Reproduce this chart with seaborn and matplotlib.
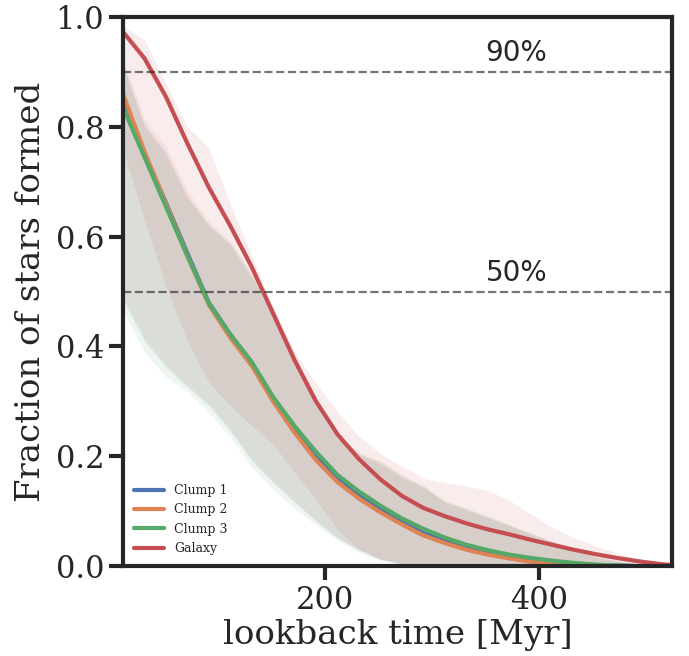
import numpy as np
import pandas as pd
import matplotlib
matplotlib.use("Agg")
import matplotlib.pyplot as plt
import seaborn as sns

# ---- data ----
time = [12, 32, 52, 72, 92, 112, 132, 152, 172, 192, 212, 232, 252, 272, 292,
        312, 332, 352, 372, 392, 412, 432, 452, 472, 492, 512, 524]

clump1 = [0.848, 0.752, 0.662, 0.570, 0.480, 0.422, 0.370, 0.305, 0.250, 0.200,
          0.158, 0.128, 0.102, 0.080, 0.060, 0.046, 0.034, 0.025, 0.018, 0.012,
          0.007, 0.004, 0.002, 0.001, 0.0, 0.0, 0.0]
clump2 = [0.860, 0.755, 0.660, 0.565, 0.476, 0.416, 0.365, 0.300, 0.243, 0.193,
          0.153, 0.123, 0.098, 0.076, 0.056, 0.042, 0.030, 0.021, 0.014, 0.008,
          0.005, 0.003, 0.001, 0.0, 0.0, 0.0, 0.0]
clump3 = [0.836, 0.745, 0.655, 0.565, 0.479, 0.422, 0.372, 0.308, 0.255, 0.208,
          0.166, 0.136, 0.110, 0.087, 0.068, 0.052, 0.039, 0.029, 0.021, 0.015,
          0.010, 0.006, 0.003, 0.001, 0.0, 0.0, 0.0]
galaxy = [0.973, 0.925, 0.855, 0.770, 0.690, 0.620, 0.545, 0.460, 0.375, 0.300,
          0.240, 0.195, 0.158, 0.128, 0.106, 0.091, 0.078, 0.067, 0.058, 0.048,
          0.039, 0.030, 0.022, 0.015, 0.009, 0.004, 0.002]

# percentile bands
clump1_lo = [0.485, 0.410, 0.362, 0.326, 0.292, 0.246, 0.192, 0.152, 0.116, 0.082,
             0.051, 0.029, 0.013, 0.004, 0.001, 0.0, 0.0, 0.0, 0.0, 0.0,
             0.0, 0.0, 0.0, 0.0, 0.0, 0.0, 0.0]
clump1_hi = [0.915, 0.805, 0.755, 0.675, 0.620, 0.585, 0.525, 0.468, 0.372, 0.292,
             0.232, 0.205, 0.186, 0.162, 0.145, 0.116, 0.104, 0.088, 0.074, 0.058,
             0.044, 0.029, 0.017, 0.009, 0.004, 0.001, 0.0]
clump2_lo = [0.490, 0.415, 0.366, 0.330, 0.296, 0.250, 0.195, 0.155, 0.118, 0.083,
             0.052, 0.030, 0.013, 0.005, 0.001, 0.0, 0.0, 0.0, 0.0, 0.0,
             0.0, 0.0, 0.0, 0.0, 0.0, 0.0, 0.0]
clump2_hi = [0.925, 0.815, 0.765, 0.685, 0.628, 0.592, 0.535, 0.474, 0.385, 0.298,
             0.238, 0.208, 0.190, 0.168, 0.142, 0.120, 0.102, 0.090, 0.076, 0.060,
             0.046, 0.031, 0.019, 0.010, 0.004, 0.001, 0.0]
clump3_lo = [0.466, 0.390, 0.345, 0.318, 0.280, 0.235, 0.180, 0.140, 0.105, 0.075,
             0.048, 0.025, 0.010, 0.003, 0.0, 0.0, 0.0, 0.0, 0.0, 0.0,
             0.0, 0.0, 0.0, 0.0, 0.0, 0.0, 0.0]
clump3_hi = [0.910, 0.800, 0.750, 0.670, 0.622, 0.588, 0.530, 0.470, 0.380, 0.296,
             0.236, 0.202, 0.192, 0.164, 0.148, 0.118, 0.106, 0.092, 0.075, 0.061,
             0.045, 0.030, 0.018, 0.010, 0.004, 0.001, 0.0]
galaxy_lo = [0.760, 0.630, 0.510, 0.410, 0.335, 0.292, 0.256, 0.222, 0.170, 0.122,
             0.066, 0.031, 0.012, 0.005, 0.002, 0.001, 0.0, 0.0, 0.0, 0.0,
             0.0, 0.0, 0.0, 0.0, 0.0, 0.0, 0.0]
galaxy_hi = [0.985, 0.958, 0.880, 0.800, 0.762, 0.660, 0.565, 0.470, 0.390, 0.332,
             0.282, 0.236, 0.205, 0.182, 0.160, 0.152, 0.146, 0.138, 0.120, 0.095,
             0.071, 0.052, 0.037, 0.025, 0.014, 0.006, 0.003]

labels = ["Clump 1", "Clump 2", "Clump 3", "Galaxy"]
lines = [clump1, clump2, clump3, galaxy]
bands = [(clump1_lo, clump1_hi), (clump2_lo, clump2_hi),
         (clump3_lo, clump3_hi), (galaxy_lo, galaxy_hi)]
percent_levels = [0.9, 0.5]
percent_texts = ["90%", "50%"]
xticks = [200, 400]

# ---- style ----
sns.set_theme(style="ticks", context="poster")
plt.rcParams["font.family"] = ["DejaVu Serif"]

palette = sns.color_palette("deep", 4)

df = pd.concat([pd.DataFrame({"time": time, "frac": v, "src": lab})
                for lab, v in zip(labels, lines)], ignore_index=True)

fig = plt.figure(figsize=(6.89, 6.56), dpi=100)
ax = fig.add_axes([0.1785, 0.137, 0.797, 0.837])

for (lo, hi), c in zip(bands, palette):
    ax.fill_between(time, lo, hi, color=c, alpha=0.1, linewidth=0)

sns.lineplot(data=df, x="time", y="frac", hue="src", palette=palette,
             linewidth=3, ax=ax)

for lvl, txt in zip(percent_levels, percent_texts):
    ax.axhline(lvl, ls="--", color="k", alpha=0.6, lw=1.6)
    ax.text(350, lvl + 0.02, txt, fontsize=20, family="DejaVu Sans",
            color="#262626")

ax.set_xlim(12, 524)
ax.set_ylim(0, 1)
ax.set_xticks(xticks)
ax.set_yticks([0.0, 0.2, 0.4, 0.6, 0.8, 1.0])
ax.set_xlabel("lookback time [Myr]", fontsize=24.5, labelpad=2)
ax.set_ylabel("Fraction of stars formed", fontsize=24.5, labelpad=6)
ax.tick_params(labelsize=22, width=3, length=10)
for s in ax.spines.values():
    s.set_linewidth(3)

leg = ax.legend(loc="lower left", fontsize=9, frameon=False, handlelength=2.4)
for h in leg.get_lines():
    h.set_linewidth(3)

fig.savefig("out.png", dpi=100)
